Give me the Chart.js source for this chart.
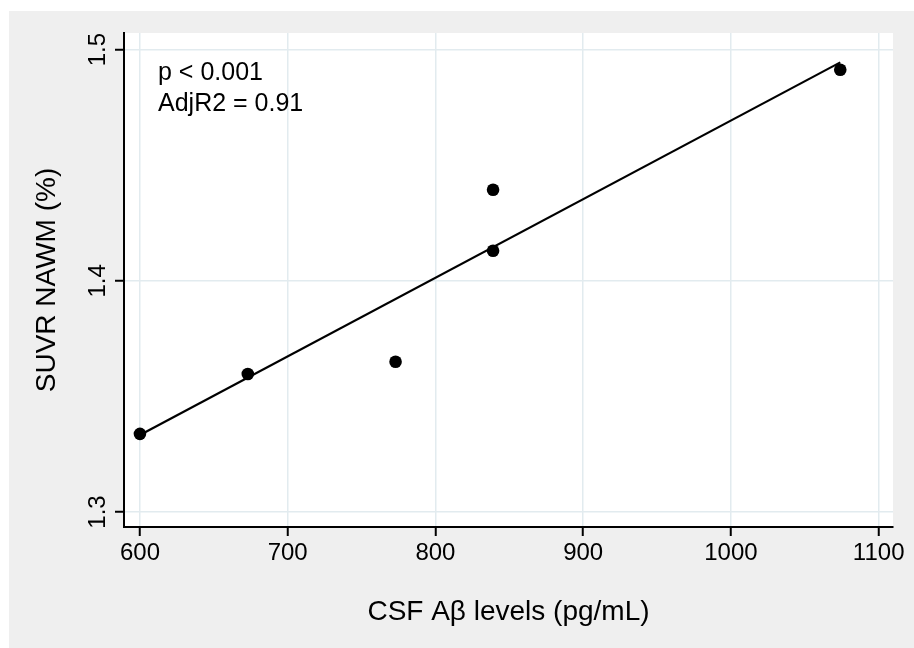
<!DOCTYPE html>
<html><head><meta charset="utf-8">
<script src="https://cdn.jsdelivr.net/npm/chart.js@4/dist/chart.umd.min.js"></script>
<style>html,body{margin:0;padding:0;background:#fff}#wrap{width:914px;height:648px}</style>
</head><body><div id="wrap"><canvas id="c" width="914" height="648"></canvas></div>
<script>
// Data
const csfLevels = [600, 673, 773, 839, 839, 1074];
const suvrNawm = [1.3338, 1.3597, 1.365, 1.4394, 1.413, 1.4913];
const fitX = [600, 1074];
const fitY = [1.3333, 1.4945];
const xTicks = [600, 700, 800, 900, 1000, 1100];
const yTicks = [1.3, 1.4, 1.5];
const xTitle = 'CSF A\u03B2 levels (pg/mL)';
const yTitle = 'SUVR NAWM (%)';
const notes = ['p < 0.001', 'AdjR2 = 0.91'];

const FONT = "'Liberation Sans', Arial, Helvetica, sans-serif";
const GRID = '#e2ebef';

const bgPlugin = {
  id: 'bg',
  beforeDraw(chart) {
    const ctx = chart.ctx;
    ctx.save();
    ctx.fillStyle = '#ffffff';
    ctx.fillRect(0, 0, chart.width, chart.height);
    ctx.fillStyle = '#efefef';
    ctx.fillRect(9, 11, chart.width - 9, chart.height - 11);
    const a = chart.chartArea;
    ctx.fillStyle = '#ffffff';
    ctx.fillRect(a.left, a.top, a.right - a.left, a.bottom - a.top);
    ctx.restore();
  },
  afterDraw(chart) {
    const ctx = chart.ctx;
    const ys = chart.scales.y;
    const a = chart.chartArea;
    ctx.save();
    ctx.fillStyle = '#000';
    ctx.font = '24px ' + FONT;
    ctx.textAlign = 'center';
    ctx.textBaseline = 'alphabetic';
    ys.ticks.forEach(t => {
      const py = ys.getPixelForValue(t.value);
      ctx.save();
      ctx.translate(105, py);
      ctx.rotate(-Math.PI / 2);
      ctx.fillText(t.value.toFixed(1), 0, 0);
      ctx.restore();
    });
    ctx.font = '25px ' + FONT;
    ctx.textAlign = 'left';
    notes.forEach((s, i) => ctx.fillText(s, a.left + 34, 80 + i * 30.5));
    ctx.restore();
  }
};

new Chart(document.getElementById('c'), {
  type: 'scatter',
  data: {
    datasets: [
      {
        data: csfLevels.map((x, i) => ({x, y: suvrNawm[i]})),
        backgroundColor: '#000', borderColor: '#000',
        pointRadius: 6.3, pointHoverRadius: 6.3, borderWidth: 0, order: 0
      },
      {
        type: 'line',
        data: fitX.map((x, i) => ({x, y: fitY[i]})),
        borderColor: '#000', borderWidth: 2.2, pointRadius: 0, fill: false,
        tension: 0, order: 1
      }
    ]
  },
  options: {
    responsive: false,
    animation: false,
    layout: {padding: {top: 33, right: 21, left: 0, bottom: 0}},
    plugins: {legend: {display: false}, tooltip: {enabled: false}},
    scales: {
      x: {
        type: 'linear', min: 589.2, max: 1109.7,
        afterFit(s) { s.height = 121; },
        afterBuildTicks(s) { s.ticks = xTicks.map(v => ({value: v})); },
        grid: {color: GRID, lineWidth: 1.5, tickColor: '#000', tickLength: 9, tickWidth: 2},
        border: {display: true, color: '#000', width: 2},
        ticks: {color: '#000', font: {family: FONT, size: 24}, padding: 3, maxRotation: 0, autoSkip: false,
                callback: v => String(v)},
        title: {display: true, text: xTitle, color: '#000', font: {family: FONT, size: 28}, padding: {top: 0, bottom: 19}}
      },
      y: {
        type: 'linear', min: 1.2935, max: 1.5072,
        afterFit(s) { s.width = 124; },
        afterBuildTicks(s) { s.ticks = yTicks.map(v => ({value: v})); },
        grid: {color: GRID, lineWidth: 1.5, tickColor: '#000', tickLength: 9, tickWidth: 2},
        border: {display: true, color: '#000', width: 2},
        ticks: {display: false},
        title: {display: true, text: yTitle, color: '#000', font: {family: FONT, size: 28}, padding: {top: 30, bottom: 0}}
      }
    }
  },
  plugins: [bgPlugin]
});
</script></body></html>
